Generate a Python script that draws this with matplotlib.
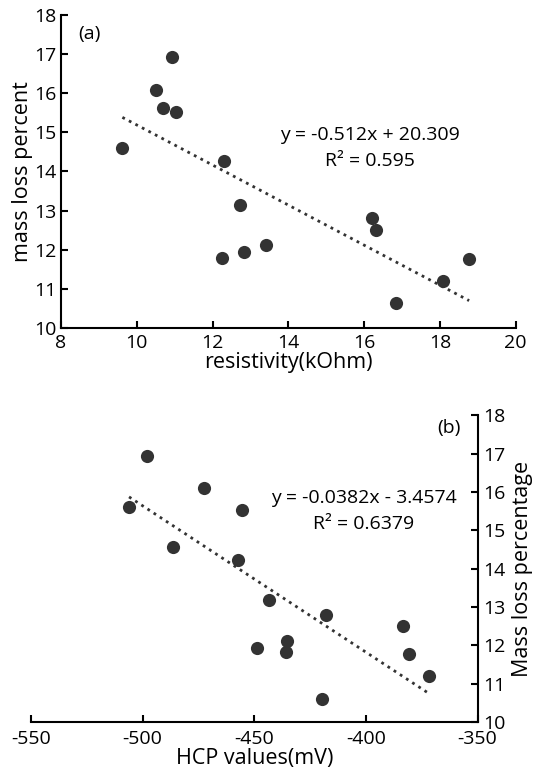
import matplotlib.pyplot as plt
import numpy as np

plt.rcParams['font.family'] = ['Open Sans', 'DejaVu Sans']
plt.rcParams['axes.unicode_minus'] = False

# (a) resistividad vs perdida de masa
resistividad = [9.62, 10.50, 10.94, 10.70, 11.03, 12.30, 12.24, 12.73, 12.83, 13.41,
                16.22, 16.31, 16.83, 18.09, 18.77]
perdida_a = [14.59, 16.09, 16.92, 15.62, 15.52, 14.27, 11.79, 13.15, 11.93, 12.12,
             12.81, 12.51, 10.64, 11.20, 11.76]
coef_a = (-0.512, 20.309)

# (b) HCP vs perdida de masa
hcp = [-498.0, -472.3, -506.1, -455.6, -486.2, -457.1, -443.5, -418.0, -435.4, -449.0,
       -435.8, -383.4, -380.8, -371.6, -419.6]
perdida_b = [16.95, 16.11, 15.62, 15.54, 14.57, 14.23, 13.18, 12.79, 12.11, 11.92,
             11.82, 12.50, 11.77, 11.19, 10.61]
coef_b = (-0.0382, -3.4574)

color_punto = '#333333'
tick_fs = 14
label_fs = 15.5
texto_fs = 14

fig = plt.figure(figsize=(5.35, 7.69), dpi=100)

# ---- panel (a)
ax1 = fig.add_axes([0.114, 0.5735, 0.850, 0.407])
ax1.scatter(resistividad, perdida_a, s=90, color=color_punto, zorder=3, linewidths=0)
xa = np.array([min(resistividad), max(resistividad)])
ax1.plot(xa, coef_a[0] * xa + coef_a[1], linestyle=':', color=color_punto, lw=2)
ax1.set_xlim(8, 20)
ax1.set_ylim(10, 18)
ax1.set_xticks(range(8, 21, 2))
ax1.set_yticks(range(10, 19))
ax1.spines['top'].set_visible(False)
ax1.spines['right'].set_visible(False)
for s in ['left', 'bottom']:
    ax1.spines[s].set_linewidth(1.5)
ax1.tick_params(direction='in', length=5, width=1.5, labelsize=tick_fs)
ax1.tick_params(axis='x', pad=4)
ax1.tick_params(axis='y', pad=3)
ax1.set_xlabel('resistivity(kOhm)', fontsize=label_fs, labelpad=0)
ax1.set_ylabel('mass loss percent', fontsize=label_fs, labelpad=1)
ax1.text(0.063, 0.94, '(a)', transform=ax1.transAxes, fontsize=texto_fs, va='center', ha='center')
ax1.text(0.68, 0.617, 'y = -0.512x + 20.309', transform=ax1.transAxes, fontsize=texto_fs,
         ha='center', va='center')
ax1.text(0.68, 0.534, 'R² = 0.595', transform=ax1.transAxes, fontsize=texto_fs,
         ha='center', va='center')

# ---- panel (b)
ax2 = fig.add_axes([0.058, 0.0611, 0.8346, 0.3986])
ax2.scatter(hcp, perdida_b, s=90, color=color_punto, zorder=3, linewidths=0)
xb = np.array([min(hcp), max(hcp)])
ax2.plot(xb, coef_b[0] * xb + coef_b[1], linestyle=':', color=color_punto, lw=2)
ax2.set_xlim(-550, -350)
ax2.set_ylim(10, 18)
ax2.set_xticks(range(-550, -349, 50))
ax2.set_yticks(range(10, 19))
ax2.yaxis.tick_right()
ax2.yaxis.set_label_position('right')
ax2.spines['top'].set_visible(False)
ax2.spines['left'].set_visible(False)
for s in ['right', 'bottom']:
    ax2.spines[s].set_linewidth(1.5)
ax2.tick_params(direction='in', length=5, width=1.5, labelsize=tick_fs)
ax2.tick_params(axis='x', pad=6)
ax2.tick_params(axis='y', pad=4)
ax2.set_xlabel('HCP values(mV)', fontsize=label_fs, labelpad=0)
ax2.set_ylabel('Mass loss percentage', fontsize=label_fs, labelpad=5)
ax2.text(0.935, 0.96, '(b)', transform=ax2.transAxes, fontsize=texto_fs, va='center', ha='center')
ax2.text(0.745, 0.73, 'y = -0.0382x - 3.4574', transform=ax2.transAxes, fontsize=texto_fs,
         ha='center', va='center')
ax2.text(0.745, 0.645, 'R² = 0.6379', transform=ax2.transAxes, fontsize=texto_fs,
         ha='center', va='center')

fig.savefig('out.png', dpi=100)
